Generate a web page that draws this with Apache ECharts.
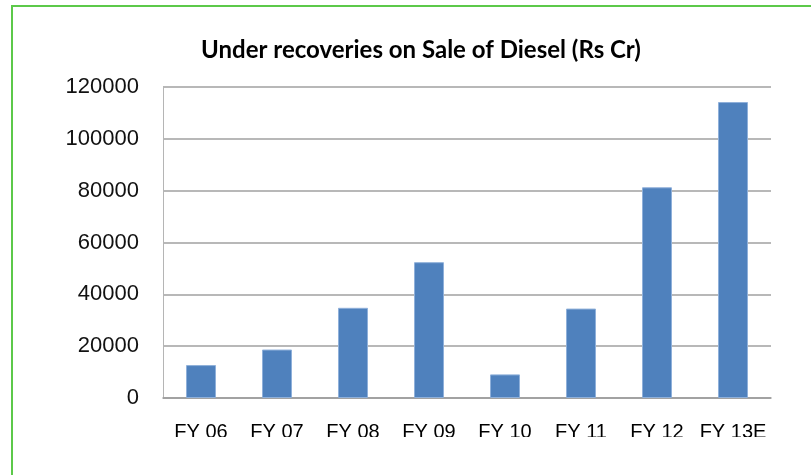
<!DOCTYPE html>
<html>
<head>
<meta charset="utf-8">
<script src="https://cdn.jsdelivr.net/npm/echarts@6/dist/echarts.min.js"></script>
<style>
  html, body { margin: 0; padding: 0; background: #fff; }
  #main { width: 811px; height: 475px; }
</style>
</head>
<body>
<div id="main"></div>
<script>
// data
const years = ['FY 06', 'FY 07', 'FY 08', 'FY 09', 'FY 10', 'FY 11', 'FY 12', 'FY 13E'];
const underRecoveries = [12700, 18700, 34800, 52400, 9100, 34500, 81300, 114200];
const yTicks = [0, 20000, 40000, 60000, 80000, 100000, 120000];

const chartDom = document.getElementById('main');
const myChart = echarts.init(chartDom);

const option = {
  animation: false,
  title: {
    text: 'Under recoveries on Sale of Diesel (Rs Cr)',
    left: 416,
    textAlign: 'center',
    top: 33,
    textStyle: {
      fontFamily: 'Lato',
      fontWeight: 'bold',
      fontSize: 24,
      color: '#000'
    }
  },
  grid: {
    left: 163,
    right: 40,
    top: 87,
    bottom: 77
  },
  xAxis: {
    type: 'category',
    data: years,
    axisTick: { show: false },
    axisLine: { lineStyle: { color: '#9a9a9a', width: 1.5 } },
    axisLabel: {
      interval: 0,
      margin: 24,
      fontFamily: 'Liberation Sans',
      fontSize: 20,
      color: '#000'
    }
  },
  yAxis: {
    type: 'value',
    min: yTicks[0],
    max: yTicks[yTicks.length - 1],
    interval: 20000,
    axisLine: { show: true, lineStyle: { color: '#b5b5b5', width: 1 } },
    axisTick: { show: false },
    splitLine: { lineStyle: { color: '#a0a0a0', width: 1.5 } },
    axisLabel: {
      margin: 24,
      fontFamily: 'Liberation Sans',
      fontSize: 22,
      color: '#111',
      formatter: (v) => String(v)
    }
  },
  series: [
    {
      type: 'bar',
      data: underRecoveries,
      barWidth: 30,
      itemStyle: {
        color: '#4f81bd',
        borderColor: '#8fb0da',
        borderWidth: 1
      }
    }
  ],
  graphic: [
    // labels in the original are cut off at the bottom
    {
      type: 'rect',
      z: 100,
      shape: { x: 14, y: 437, width: 800, height: 40 },
      style: { fill: '#fff' }
    },
    // green frame
    {
      type: 'rect',
      z: 101,
      shape: { x: 12, y: 6, width: 900, height: 600 },
      style: { fill: 'none', stroke: '#5cc94a', lineWidth: 2 }
    }
  ]
};

myChart.setOption(option);
</script>
</body>
</html>
